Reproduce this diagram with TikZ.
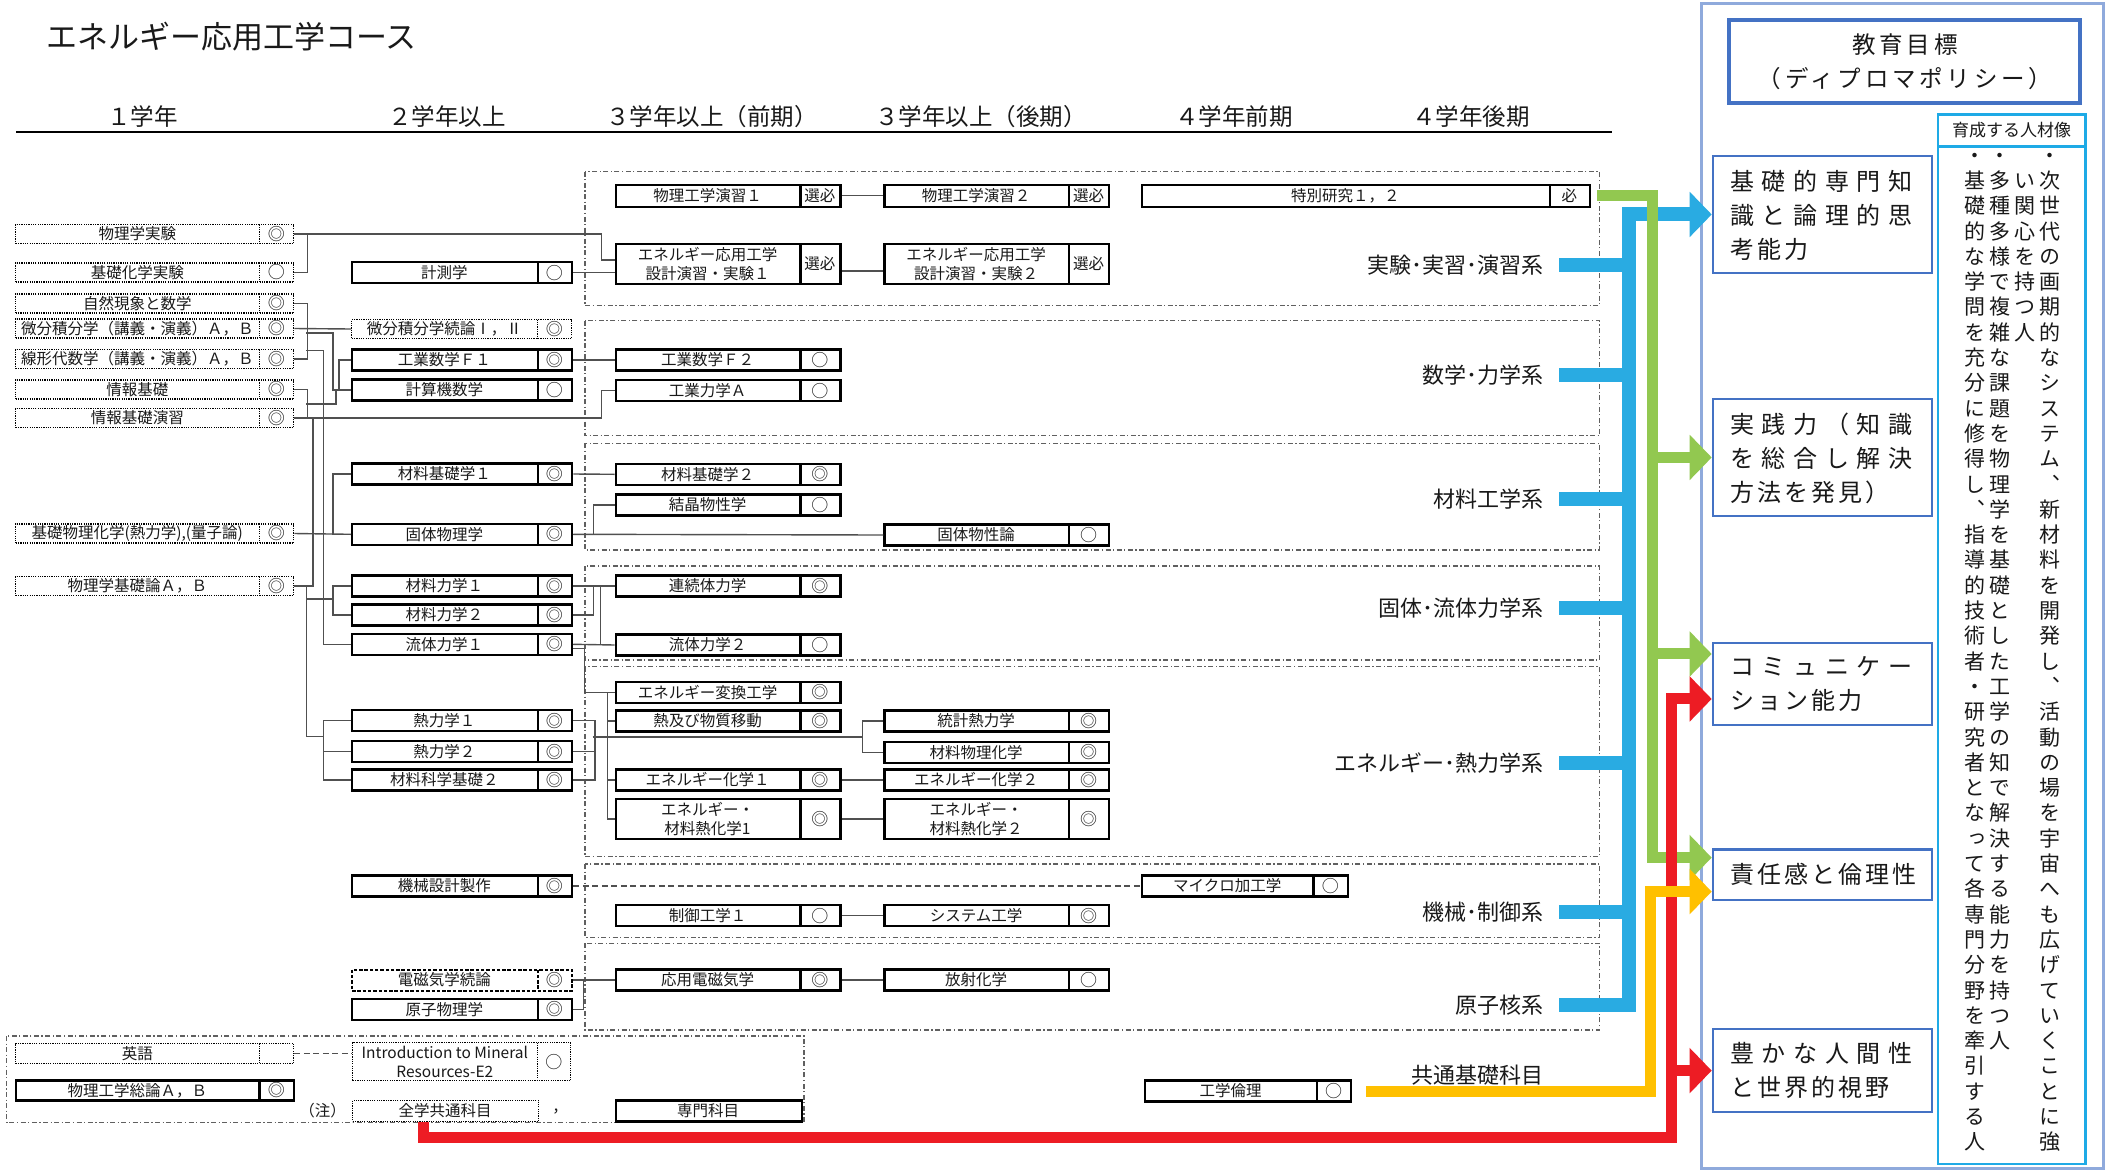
\documentclass[tikz,border=0pt]{standalone}
\usepackage{fontspec}
\setmainfont{Noto Sans CJK JP}
\newfontfamily\goalwide[LetterSpace=32]{Noto Sans CJK JP}
\newfontfamily\goalnarrow[LetterSpace=13]{Noto Sans CJK JP}
\newfontfamily\dpfont[LetterSpace=16]{Noto Sans CJK JP}
\newfontfamily\tatefont[RawFeature=+vert]{Noto Sans CJK JP}
\usetikzlibrary{arrows.meta}
\definecolor{linkgray}{RGB}{80,80,80}
\definecolor{inkblack}{RGB}{25,25,25}
\definecolor{keiblue}{RGB}{41,171,226}
\definecolor{keigreen}{RGB}{146,200,80}
\definecolor{keired}{RGB}{237,28,36}
\definecolor{keiyellow}{RGB}{255,192,0}
\definecolor{panelblue}{RGB}{143,170,220}
\definecolor{goalblue}{RGB}{68,114,196}
\definecolor{jinzaiblue}{RGB}{30,170,230}
\tikzset{
  solidbox/.style={draw=black, line width=2.4pt},
  dotbox/.style={draw=black, line width=1.4pt, dash pattern=on 1.2pt off 1.1pt},
  dashbox/.style={draw=black, line width=2pt, dash pattern=on 3.5pt off 1.8pt},
  ctext/.style={font=\fontsize{15.5}{19.5}\selectfont, text=inkblack, align=center, inner sep=0pt},
  mtext/.style={font=\fontsize{17}{19.5}\selectfont, text=inkblack, align=center, inner sep=0pt},
  link/.style={draw=linkgray, line width=1.4pt},
  dashlink/.style={link, dash pattern=on 6pt off 3.5pt},
  group/.style={draw=gray!75!black, line width=1.2pt, dash pattern=on 5pt off 2.5pt on 1.2pt off 2.5pt},
  grouplabel/.style={font=\fontsize{22}{26}\selectfont, text=inkblack, anchor=east, inner sep=0pt},
  header/.style={font=\fontsize{23.5}{27}\selectfont, text=inkblack, inner sep=0pt},
  tip/.style={-{Triangle[length=22pt 0 0,width=44pt 0 0]}},
  bluebar/.style={draw=keiblue, line width=14pt},
  greenbar/.style={draw=keigreen, line width=11pt, tip},
  redbar/.style={draw=keired, line width=11pt, tip},
  yellowbar/.style={draw=keiyellow, line width=11pt, tip},
  goalbox/.style={draw=goalblue, line width=2.2pt, minimum width=219pt, inner sep=0pt, anchor=north west},
  goaltext/.style={font=\fontsize{24}{34}\selectfont, text=inkblack, align=left, anchor=north west, inner sep=0pt},
  tatetext/.style={font=\tatefont\fontsize{21}{25.3}\selectfont, text=inkblack, anchor=north, inner sep=0pt},
}
% course box: style, name, left, divider, right, y, height, title, mark
\newcommand{\course}[9]{%
  \node[#1, minimum width={#5-#3}, minimum height=#7, inner sep=0pt, anchor=west] (#2) at (#3,#6) {};
  \draw[#1] (#4,{#6-#7/2}) -- (#4,{#6+#7/2});
  \node[ctext] (#2-t) at ({(#3+#4)/2},#6) {#8};
  \node[mtext] (#2-m) at ({(#4+#5)/2},#6) {#9};
}
\newcommand{\plaincourse}[7]{%
  \node[#1, minimum width={#4-#3}, minimum height=#6, inner sep=0pt, anchor=west] (#2) at (#3,#5) {};
  \node[ctext] (#2-t) at ({(#3+#4)/2},#5) {#7};
}
% vertical writing, one character per line
\def\tateloop#1{\ifx\relax#1\else\hbox to 1em{\hss\vrule height 0.88em depth 0.12em width 0pt#1\hss}\expandafter\tateloop\fi}
\newcommand{\tate}[1]{\vbox{\baselineskip=25.3pt\lineskip=0pt\lineskiplimit=-40pt\tateloop#1\relax}}

\begin{document}
\begin{tikzpicture}[x=1pt,y=-1pt]
  \path[fill=white] (0,0) rectangle (2112,1170);
  \useasboundingbox (0,0) rectangle (2112,1170);

  \node[font=\fontsize{31}{36}\selectfont, text=inkblack, anchor=west, inner sep=0pt] (title) at (46,37) {エネルギー応用工学コース};

  %% year headers
  \node[header] (hYear1) at (142.5,117) {１学年};
  \node[header] (hYear2) at (447,117) {２学年以上};
  \node[header] (hYear3a) at (712,117) {３学年以上（前期）};
  \node[header] (hYear3b) at (981,117) {３学年以上（後期）};
  \node[header] (hYear4a) at (1234,117) {４学年前期};
  \node[header] (hYear4b) at (1471,117) {４学年後期};
  \draw[black, line width=1.5pt] (16,132) -- (1612,132);

  %% subject groups
  \draw[group] (585,171.7) rectangle (1599.4,305.7);
  \draw[group] (585,320.7) rectangle (1599.4,435.7);
  \draw[group] (585,443.3) rectangle (1599.4,550);
  \draw[group] (585,566) rectangle (1599.4,660);
  \draw[group] (585,666.7) rectangle (1599.4,856.7);
  \draw[group] (585,864) rectangle (1599.4,937.3);
  \draw[group] (585,943.3) rectangle (1599.4,1030);
  \draw[group] (6.5,1036) rectangle (804,1122.7);

  %% 1st year
  \course{dotbox}{aJikken}{15}{259.5}{293}{234}{19}{物理学実験}{◎}
  \course{dotbox}{aKagaku}{15}{259.5}{293}{272.5}{19}{基礎化学実験}{○}
  \course{dotbox}{aShizen}{15}{259.5}{293}{303.5}{19}{自然現象と数学}{◎}
  \course{dotbox}{aBibun}{15}{259.5}{293}{328.5}{19}{微分積分学（講義・演義）Ａ，Ｂ}{◎}
  \course{dotbox}{aSenkei}{15}{259.5}{293}{359}{19}{線形代数学（講義・演義）Ａ，Ｂ}{◎}
  \course{dotbox}{aJoho}{15}{259.5}{293}{389.5}{19}{情報基礎}{◎}
  \course{dotbox}{aJohoEn}{15}{259.5}{293}{418}{19}{情報基礎演習}{◎}
  \course{dotbox}{aButsuka}{15}{259.5}{293}{533.5}{19}{基礎物理化学(熱力学),(量子論)}{◎}
  \course{dotbox}{aKisoron}{15}{259.5}{293}{586}{19}{物理学基礎論Ａ，Ｂ}{◎}
  \course{dotbox}{aEigo}{15}{259.5}{293}{1053.5}{20}{英語}{}
  \course{solidbox}{aSoron}{15}{259.5}{293}{1090.5}{20}{物理工学総論Ａ，Ｂ}{◎}

  %% 2nd year
  \course{solidbox}{bKeisoku}{351}{537.7}{571}{272.7}{21}{計測学}{○}
  \course{dotbox}{bBibunZ}{351}{537.7}{571}{329}{19}{微分積分学続論Ⅰ，Ⅱ}{◎}
  \course{solidbox}{bKogyoF1}{351}{537.7}{571}{360}{21}{工業数学Ｆ１}{◎}
  \course{solidbox}{bKeisanki}{351}{537.7}{571}{390}{21}{計算機数学}{○}
  \course{solidbox}{bZairyo1}{351}{537.7}{571}{474}{21}{材料基礎学１}{◎}
  \course{solidbox}{bKotai}{351}{537.7}{571}{534.3}{21}{固体物理学}{◎}
  \course{solidbox}{bZairiki1}{351}{537.7}{571}{586}{21}{材料力学１}{◎}
  \course{solidbox}{bZairiki2}{351}{537.7}{571}{615}{21}{材料力学２}{◎}
  \course{solidbox}{bRyutai1}{351}{537.7}{571}{644.3}{21}{流体力学１}{◎}
  \course{solidbox}{bNetsu1}{351}{537.7}{571}{720.7}{21}{熱力学１}{◎}
  \course{solidbox}{bNetsu2}{351}{537.7}{571}{751.7}{21}{熱力学２}{◎}
  \course{solidbox}{bZaikagaku}{351}{537.7}{571}{780}{21}{材料科学基礎２}{◎}
  \course{solidbox}{bKikai}{351}{537.7}{571}{886}{21}{機械設計製作}{◎}
  \course{dashbox}{bDenji}{351}{537.7}{571}{980}{21}{電磁気学続論}{◎}
  \course{solidbox}{bGenshi}{351}{537.7}{571}{1009.3}{21}{原子物理学}{◎}
  \course{dotbox}{bIntro}{352}{537.7}{570}{1061.7}{38}{Introduction to Mineral\\Resources-E2}{○}
  \plaincourse{dotbox}{bZengaku}{352}{538}{1111}{21}{全学共通科目}

  %% 3rd year, first term
  \course{solidbox}{cEnshu1}{614.7}{800.3}{839.4}{195.7}{22}{物理工学演習１}{\fontsize{15.5}{19}\selectfont 選必}
  \course{solidbox}{cSekkei1}{614.7}{800.3}{839.4}{264}{40}{エネルギー応用工学\\設計演習・実験１}{\fontsize{15.5}{19}\selectfont 選必}
  \course{solidbox}{cKogyoF2}{614.7}{800.3}{839.4}{360}{21}{工業数学Ｆ２}{○}
  \course{solidbox}{cRikigaku}{614.7}{800.3}{839.4}{390.7}{21}{工業力学Ａ}{○}
  \course{solidbox}{cZairyo2}{614.7}{800.3}{839.4}{474.3}{21}{材料基礎学２}{◎}
  \course{solidbox}{cKessho}{614.7}{800.3}{839.4}{505}{21}{結晶物性学}{○}
  \course{solidbox}{cRenzoku}{614.7}{800.3}{839.4}{586}{21}{連続体力学}{◎}
  \course{solidbox}{cRyutai2}{614.7}{800.3}{839.4}{645}{21}{流体力学２}{○}
  \course{solidbox}{cHenkan}{614.7}{800.3}{839.4}{692.3}{21}{エネルギー変換工学}{◎}
  \course{solidbox}{cIdo}{614.7}{800.3}{839.4}{721}{21}{熱及び物質移動}{◎}
  \course{solidbox}{cEkagaku1}{614.7}{800.3}{839.4}{780}{21}{エネルギー化学１}{◎}
  \course{solidbox}{cNetsuka1}{614.7}{800.3}{839.4}{819}{40}{エネルギー・\\材料熱化学1}{◎}
  \course{solidbox}{cSeigyo}{614.7}{800.3}{839.4}{915.7}{21}{制御工学１}{○}
  \course{solidbox}{cOyoDenji}{614.7}{800.3}{839.4}{980}{21}{応用電磁気学}{◎}
  \plaincourse{solidbox}{cSenmon}{615}{801}{1111}{21}{専門科目}

  %% 3rd year, second term
  \course{solidbox}{dEnshu2}{883.4}{1069}{1108}{195.7}{22}{物理工学演習２}{\fontsize{15.5}{19}\selectfont 選必}
  \course{solidbox}{dSekkei2}{883.4}{1069}{1108}{264}{40}{エネルギー応用工学\\設計演習・実験２}{\fontsize{15.5}{19}\selectfont 選必}
  \course{solidbox}{dBussei}{883.4}{1069}{1108}{535}{21}{固体物性論}{○}
  \course{solidbox}{dTokei}{883.4}{1069}{1108}{721}{21}{統計熱力学}{◎}
  \course{solidbox}{dZaibutsu}{883.4}{1069}{1108}{752.3}{21}{材料物理化学}{◎}
  \course{solidbox}{dEkagaku2}{883.4}{1069}{1108}{780}{21}{エネルギー化学２}{◎}
  \course{solidbox}{dNetsuka2}{883.4}{1069}{1108}{819}{40}{エネルギー・\\材料熱化学２}{◎}
  \course{solidbox}{dSystem}{883.4}{1069}{1108}{915.7}{21}{システム工学}{◎}
  \course{solidbox}{dHosha}{883.4}{1069}{1108}{980}{21}{放射化学}{○}

  %% 4th year
  \course{solidbox}{eTokubetsu}{1141}{1549.7}{1589}{195.7}{22}{特別研究１，２}{\fontsize{15.5}{19}\selectfont 必}
  \course{solidbox}{eMicro}{1141}{1313.5}{1347}{886}{21}{マイクロ加工学}{○}
  \course{solidbox}{eRinri}{1144}{1317}{1350}{1091}{21}{工学倫理}{○}

  %% legend notes
  \node[ctext] (noteMark) at (322.5,1111) {（注）};
  \node[ctext] (noteComma) at (560,1111) {，};

  %% connectors, experiments
  \draw[link] (aKagaku.east) -- ++(13,0) |- (aJikken.east);
  \draw[link] (aJikken.east) -- ++(307,0) |- ([yshift=4]cSekkei1.west);
  \draw[link] (bKeisoku.east) -- (bKeisoku.east -| cSekkei1.west);
  \draw[link] (cEnshu1.east) -- (dEnshu2.west);
  \draw[link] ([yshift=-7]cSekkei1.east) -- ([yshift=-7]dSekkei2.west);

  %% connectors, mathematics
  \coordinate (mathA) at (306,333);
  \coordinate (mathB) at (306,350.7);
  \draw[link] (aShizen.east) -- ++(13,0) |- (aSenkei.east);
  \draw[link] (aBibun.east) -- (bBibunZ.west);
  \draw[link] (bKogyoF1.west) -- ++(-12,0) |- (bKeisanki.west);
  \draw[link] (mathA) -- ++(27,0) |- ([xshift=-12]bKeisanki.west);
  \draw[link] (mathB) -| ([xshift=-27.6]bRyutai1.west) -- (bRyutai1.west);
  \draw[link] (bKogyoF1.east) -- (cKogyoF2.west);

  %% connectors, information
  \coordinate (johoA) at (306,404);
  \coordinate (johoB) at (313,418);
  \draw[link] (aJoho.east) -- ++(13,0) |- (aJohoEn.east);
  \draw[link] (johoA) -| ([xshift=-15]bKeisanki.west) -- (bKeisanki.west);
  \draw[link] (aJohoEn.east) -- ++(307,0) |- (cRikigaku.west);
  \draw[link] (aKisoron.east) -| (johoB);

  %% connectors, materials
  \draw[link] (bZairyo1.east) -- (cZairyo2.west);
  \draw[link] (aButsuka.east) -- (bKotai.west);
  \draw[link] (bZairyo1.west) -- ++(-18,0) |- (bKotai.west);
  \draw[link] (bKotai.east) -- (dBussei.west);
  \draw[link] (bKotai.east) -- ++(20,0) |- (cKessho.west);

  %% connectors, solid and fluid mechanics
  \coordinate (kisoA) at (306,599);
  \coordinate (zairikiA) at (333,599);
  \coordinate (netsuA) at (323.4,736.7);
  \draw[link] (aKisoron.east) -- ++(12,0) |- (netsuA);
  \draw[link] (kisoA) -- (zairikiA);
  \draw[link] (bZairiki1.west) -- ++(-18,0) |- (bZairiki2.west);
  \draw[link] (bZairiki1.east) -- (cRenzoku.west);
  \draw[link] (bZairiki2.east) -- ++(20,0) |- (cRenzoku.west);
  \draw[link] (bRyutai1.east) -- (cRyutai2.west);
  \draw[link] (bRyutai1.east) -- ++(27,0) |- (cRenzoku.west);
  \draw[link] ([yshift=-4]bRyutai1.east) -- ++(11,0) |- (cHenkan.west);

  %% connectors, energy and thermodynamics
  \coordinate (netsuB) at (592.5,737);
  \coordinate (tokeiA) at (862.3,737);
  \draw[link] (bNetsu1.west) -- ++(-27.6,0) |- (bZaikagaku.west);
  \draw[link] (bNetsu2.west) -- ++(-27.6,0);
  \draw[link] (bNetsu1.east) -- ++(21.5,0) |- (bZaikagaku.east);
  \draw[link] (bNetsu2.east) -- ++(21.5,0);
  \draw[link] (netsuB) -- (tokeiA);
  \draw[link] (dTokei.west) -- ++(-21,0) |- (dZaibutsu.west);
  \draw[link] (cHenkan.west) -- ++(-7,0) |- (cNetsuka1.west);
  \draw[link] (cIdo.west) -- ++(-7,0);
  \draw[link] (cEkagaku1.west) -- ++(-7,0);
  \draw[link] (cEkagaku1.east) -- (dEkagaku2.west);
  \draw[link] (cNetsuka1.east) -- (dNetsuka2.west);

  %% connectors, machines and nuclear
  \draw[dashlink] (bKikai.east) -- (eMicro.west);
  \draw[link] (cSeigyo.east) -- (dSystem.west);
  \draw[link] (bDenji.east) -- (cOyoDenji.west);
  \draw[link] (bGenshi.east) -- ++(10,0) |- (bDenji.east);
  \draw[link] (cOyoDenji.east) -- (dHosha.west);
  \draw[dashlink] (aEigo.east) -- (aEigo.east -| bIntro.west);

  %% group labels
  \node[grouplabel] (lJikken) at (1544,265) {実験･実習･演習系};
  \node[grouplabel] (lSuri) at (1544,375) {数学･力学系};
  \node[grouplabel] (lZairyo) at (1544,499.3) {材料工学系};
  \node[grouplabel] (lRyutai) at (1544,608.3) {固体･流体力学系};
  \node[grouplabel] (lNetsu) at (1544,763.3) {エネルギー･熱力学系};
  \node[grouplabel] (lSeigyo) at (1544,911.7) {機械･制御系};
  \node[grouplabel] (lGenshi) at (1544,1005) {原子核系};
  \node[grouplabel] (lKyotsu) at (1544,1075.5) {共通基礎科目};

  %% diploma policy panel
  \draw[panelblue, line width=3pt] (1701.7,3) rectangle (2103,1168);
  \node[draw=goalblue, line width=3.5pt, minimum width=351pt, minimum height=83pt, inner sep=0pt, anchor=north west] (dpBox) at (1727,18.4) {};
  \node[font=\dpfont\fontsize{23.5}{33.5}\selectfont, text=inkblack, align=center, inner sep=0pt] (dpText) at (1905,61.75) {教育目標\\（ディプロマポリシー）};
  \node[draw=jinzaiblue, line width=2.5pt, minimum width=147.3pt, minimum height=32.4pt, inner sep=0pt, anchor=north west] (jzHead) at (1936.7,113) {};
  \node[font=\fontsize{17}{20}\selectfont, text=inkblack, inner sep=0pt] (jzHeadT) at (jzHead.center) {育成する人材像};
  \node[draw=jinzaiblue, line width=2.5pt, minimum width=147.3pt, minimum height=1017.2pt, inner sep=0pt, anchor=north west] (jzBody) at (1936.7,145.4) {};
  \node[tatetext] (tate1) at (2050,144.5) {\tate{・次世代の画期的なシステム、新材料を開発し、活動の場を宇宙へも広げていくことに強}};
  \node[tatetext] (tate2) at (2025,144.5) {\tate{　い関心を持つ人}};
  \node[tatetext] (tate3) at (1999.5,144.5) {\tate{・多種多様で複雑な課題を物理学を基礎とした工学の知で解決する能力を持つ人}};
  \node[tatetext] (tate4) at (1975,144.5) {\tate{・基礎的な学問を充分に修得し、指導的技術者・研究者となって各専門分野を牽引する人}};

  \node[goalbox, minimum height=116.7pt] (gKiso) at (1711.7,155) {};
  \node[goalbox, minimum height=116.7pt] (gJissen) at (1711.7,398) {};
  \node[goalbox, minimum height=82.3pt] (gComm) at (1711.7,641.7) {};
  \node[goalbox, minimum height=50.2pt] (gSeki) at (1711.7,848.4) {};
  \node[goalbox, minimum height=83pt] (gYutaka) at (1711.7,1028) {};
  \node[goaltext] (gKisoT) at (1730,169.8) {{\goalwide 基礎的専門知}\\{\goalwide 識と論理的思}\\{\goalnarrow 考能力}};
  \node[goaltext] (gJissenT) at (1730,412.8) {{\goalwide 実践力（知識}\\{\goalwide を総合し解決}\\{\goalnarrow 方法を発見）}};
  \node[goaltext] (gCommT) at (1730,655.8) {{\goalwide コミュニケー}\\{\goalnarrow ション能力}};
  \node[goaltext] (gSekiT) at (1730,863) {{\goalnarrow 責任感と倫理性}};
  \node[goaltext] (gYutakaT) at (1730,1042) {{\goalwide 豊かな人間性}\\{\goalnarrow と世界的視野}};

  %% flows into the goals
  \coordinate (blueX) at (1628.5,0);
  \coordinate (greenX) at (1652,0);
  \coordinate (redC) at (1671,1137);
  \coordinate (yellowC) at (1650,1091);
  \coordinate (gCommG) at ([yshift=30]gComm.west);
  \coordinate (gCommR) at ([yshift=-15]gComm.west);
  \coordinate (gSekiG) at ([yshift=17]gSeki.west);
  \coordinate (gSekiY) at ([yshift=-17]gSeki.west);

  \draw[bluebar] ([xshift=15]lJikken.east) -- (lJikken.east -| blueX);
  \draw[bluebar] ([xshift=15]lSuri.east) -- (lSuri.east -| blueX);
  \draw[bluebar] ([xshift=15]lZairyo.east) -- (lZairyo.east -| blueX);
  \draw[bluebar] ([xshift=15]lRyutai.east) -- (lRyutai.east -| blueX);
  \draw[bluebar] ([xshift=15]lNetsu.east) -- (lNetsu.east -| blueX);
  \draw[bluebar] ([xshift=15]lSeigyo.east) -- (lSeigyo.east -| blueX);
  \draw[bluebar, tip] ([xshift=15]lGenshi.east) -- (lGenshi.east -| blueX) |- (gKiso.west);

  \draw[greenbar] ([xshift=6]eTokubetsu.east) -- (eTokubetsu.east -| greenX) |- (gSekiG);
  \draw[greenbar] (greenX |- gJissen.west) -- (gJissen.west);
  \draw[greenbar] (greenX |- gCommG) -- (gCommG);

  \draw[redbar] ([xshift=-22.5]bZengaku.south) |- (redC) |- (gCommR);
  \draw[redbar] (redC |- gYutaka.west) -- (gYutaka.west);

  \draw[yellowbar] ([xshift=14]eRinri.east) -- (yellowC) |- (gSekiY);
\end{tikzpicture}
\end{document}
